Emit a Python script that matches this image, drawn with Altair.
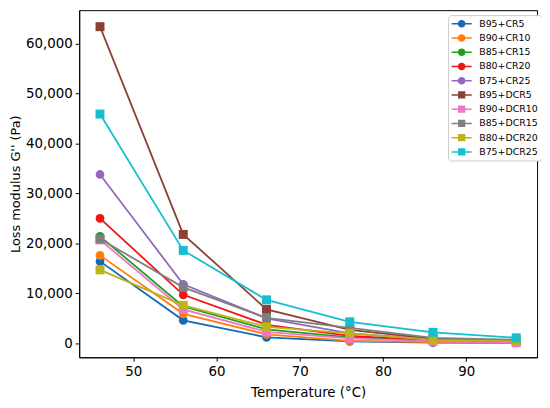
import altair as alt
import pandas as pd

temps = [46, 56, 66, 76, 86, 96]

series_names = ["B95+CR5", "B90+CR10", "B85+CR15", "B80+CR20", "B75+CR25",
                "B95+DCR5", "B90+DCR10", "B85+DCR15", "B80+DCR20", "B75+DCR25"]
series_colors = ["#1668b4", "#ff7f0e", "#1ca01c", "#f01616", "#9467bd",
                 "#8c4232", "#f074c8", "#7f7f7f", "#bcb31a", "#17bed0"]
series_markers = ["circle"] * 5 + ["square"] * 5

b95_cr5 = [16400, 4600, 1200, 400, 150, 80]
b90_cr10 = [17600, 5900, 1800, 500, 250, 150]
b85_cr15 = [21400, 7400, 2800, 1200, 500, 300]
b80_cr20 = [25000, 9700, 3700, 1500, 600, 300]
b75_cr25 = [33800, 11800, 5000, 2000, 800, 400]
b95_dcr5 = [63400, 21800, 6800, 2700, 900, 400]
b90_dcr10 = [20700, 6800, 2300, 1000, 400, 100]
b85_dcr15 = [20900, 11200, 5100, 3100, 1100, 700]
b80_dcr20 = [14700, 7600, 3300, 2000, 700, 400]
b75_dcr25 = [45900, 18600, 8700, 4300, 2200, 1100]

series_values = [b95_cr5, b90_cr10, b85_cr15, b80_cr20, b75_cr25,
                 b95_dcr5, b90_dcr10, b85_dcr15, b80_dcr20, b75_dcr25]

rows = []
for name, vals in zip(series_names, series_values):
    for t, v in zip(temps, vals):
        rows.append({"series": name, "temp": t, "g": v})
df = pd.DataFrame(rows)

FONT = "DejaVu Sans"

x_enc = alt.X("temp:Q",
              scale=alt.Scale(domain=[43.5, 98.5], nice=False, zero=False),
              axis=alt.Axis(values=[50, 60, 70, 80, 90], title="Temperature (°C)",
                            titlePadding=8))
y_enc = alt.Y("g:Q",
              scale=alt.Scale(domain=[-2800, 66700], nice=False, zero=False),
              axis=alt.Axis(values=[0, 10000, 20000, 30000, 40000, 50000, 60000],
                            format=",d", title="Loss modulus G'' (Pa)",
                            titlePadding=3, titleFontSize=13))

layers = []
for name, col, mk in zip(series_names, series_colors, series_markers):
    base = alt.Chart(df).transform_filter(alt.datum.series == name)
    layers.append(base.mark_line(color=col, strokeWidth=1.8).encode(x=x_enc, y=y_enc))
    if mk == "circle":
        layers.append(base.mark_circle(color=col, size=78, opacity=1).encode(x=x_enc, y=y_enc))
    else:
        layers.append(base.mark_square(color=col, size=82, opacity=1).encode(x=x_enc, y=y_enc))

line_part = "M-2.5,-0.2H2.5V0.2H-2.5Z"
circle_part = "M0.95,0A0.95,0.95,0,1,1,-0.95,0A0.95,0.95,0,1,1,0.95,0Z"
square_part = "M-0.9,-0.9H0.9V0.9H-0.9Z"
legend_paths = [line_part + (circle_part if m == "circle" else square_part)
                for m in series_markers]

leg = alt.Legend(title=None, orient="none", legendX=373, legendY=5,
                 symbolSize=66, symbolStrokeWidth=0, symbolOffset=5,
                 labelOffset=13, labelFontSize=9.5, labelFont=FONT,
                 labelColor="black", rowPadding=3.4, padding=4,
                 strokeColor="#cccccc", fillColor="white", cornerRadius=3,
                 symbolOpacity=1)

legend_layer = alt.Chart(df).transform_filter("false").mark_point(
    filled=True, opacity=1).encode(
    x=x_enc, y=y_enc,
    color=alt.Color("series:N", scale=alt.Scale(domain=series_names, range=series_colors), legend=leg),
    shape=alt.Shape("series:N", scale=alt.Scale(domain=series_names, range=legend_paths), legend=leg),
)
layers.append(legend_layer)

chart = alt.layer(*layers).properties(
    width=463, height=351,
    autosize=alt.AutoSizeParams(type="none"),
    padding={"left": 72, "top": 0, "right": 5, "bottom": 40},
    background="white",
).configure_view(
    stroke="black", strokeWidth=1
).configure_axis(
    grid=False, domainColor="black", tickColor="black", tickSize=4,
    labelColor="black", titleColor="black", labelFont=FONT, titleFont=FONT,
    labelFontSize=13.5, titleFontSize=13.5, titleFontWeight="normal",
    labelPadding=3, domainWidth=1, tickWidth=1,
)

chart.save("out.html", embed_options={"renderer": "svg", "actions": False})
